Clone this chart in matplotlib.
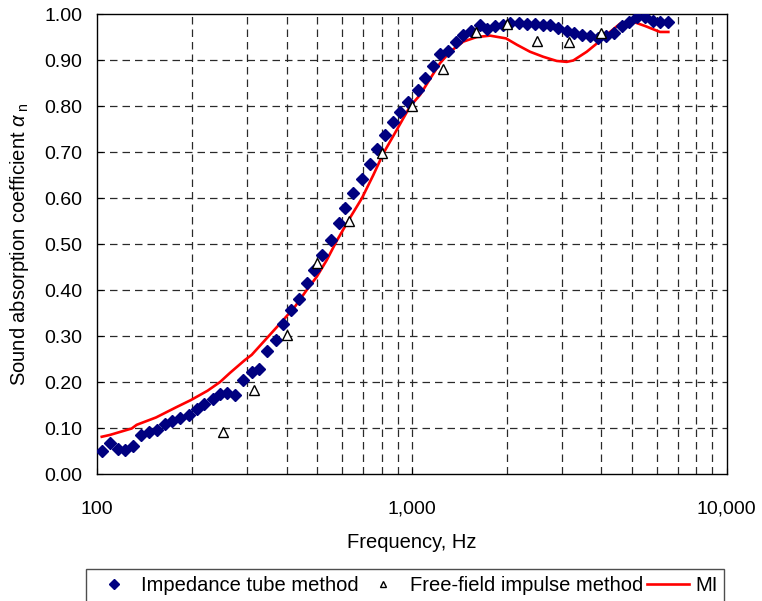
import matplotlib
matplotlib.use("Agg")
import matplotlib.pyplot as plt
from matplotlib.ticker import FixedLocator, FuncFormatter, NullFormatter

plt.rcParams['font.family'] = ['Liberation Sans', 'DejaVu Sans']
plt.rcParams['mathtext.fontset'] = 'custom'
plt.rcParams['mathtext.rm'] = 'Liberation Sans'
plt.rcParams['mathtext.it'] = 'Liberation Sans:italic'

# Impedance tube method
tube_f = [103.3, 109.7, 116.1, 122.9, 130.3, 137.5, 146.0, 154.8, 164.1, 173.1,
          183.8, 195.2, 207.1, 218.8, 232.3, 245.9, 258.8, 274.5, 291.0, 309.4,
          326.5, 346.2, 368.8, 390.0, 411.1, 436.5, 464.8, 488.2, 518.8, 550.8,
          586.1, 612.4, 651.1, 692.2, 735.5, 775.8, 820.8, 868.4, 915.9, 973.2,
          1045, 1100, 1164, 1227, 1304, 1375, 1452, 1540, 1640, 1735,
          1839, 1946, 2049, 2183, 2315, 2459, 2598, 2751, 2911, 3101,
          3272, 3474, 3677, 3908, 4134, 4374, 4638, 4903, 5194, 5512,
          5832, 6151, 6524]
tube_a = [0.050, 0.068, 0.055, 0.053, 0.062, 0.086, 0.092, 0.097, 0.110, 0.116,
          0.122, 0.130, 0.142, 0.154, 0.165, 0.176, 0.178, 0.173, 0.205, 0.223,
          0.230, 0.268, 0.292, 0.327, 0.358, 0.382, 0.416, 0.445, 0.477, 0.509,
          0.546, 0.580, 0.611, 0.642, 0.675, 0.707, 0.738, 0.767, 0.789, 0.810,
          0.836, 0.861, 0.887, 0.914, 0.921, 0.940, 0.956, 0.964, 0.977, 0.968,
          0.975, 0.977, 0.982, 0.982, 0.979, 0.979, 0.978, 0.977, 0.970, 0.964,
          0.960, 0.955, 0.953, 0.949, 0.953, 0.959, 0.976, 0.984, 0.995, 0.995,
          0.985, 0.984, 0.984]

# Free-field impulse method
free_f = [250, 315, 400, 500, 630, 800, 1000, 1250, 1600, 2000, 2500, 3150, 4000]
free_a = [0.092, 0.184, 0.303, 0.460, 0.552, 0.698, 0.802, 0.881, 0.963, 0.979,
          0.943, 0.940, 0.959]

# MI
mi_f = [103.3, 109.7, 128.6, 133.4, 153.7, 177.9, 198.6, 223.9, 245.4, 264.1,
        294.6, 309.4, 345.3, 390.0, 424.8, 462.8, 498.2, 535.8, 576.5, 635.3,
        692.2, 753.5, 810.6, 894.2, 985.4, 1060, 1141, 1227, 1321, 1455,
        1606, 1770, 1990, 2157, 2371, 2614, 2883, 3101, 3254, 3591,
        3899, 4258, 4581, 5049, 5501, 6138, 6524]
mi_a = [0.082, 0.086, 0.100, 0.108, 0.124, 0.146, 0.162, 0.182, 0.201, 0.221,
        0.249, 0.260, 0.296, 0.336, 0.365, 0.401, 0.430, 0.466, 0.508, 0.558,
        0.600, 0.651, 0.698, 0.749, 0.800, 0.825, 0.860, 0.894, 0.919, 0.941,
        0.951, 0.954, 0.948, 0.934, 0.919, 0.908, 0.899, 0.897, 0.900, 0.919,
        0.939, 0.962, 0.980, 0.984, 0.975, 0.962, 0.962]

y_ticks = [0.0, 0.1, 0.2, 0.3, 0.4, 0.5, 0.6, 0.7, 0.8, 0.9, 1.0]
x_ticks = [100, 1000, 10000]
x_ticklabels = ["100", "1,000", "10,000"]
x_minor = [200, 300, 400, 500, 600, 700, 800, 900,
           2000, 3000, 4000, 5000, 6000, 7000, 8000, 9000]

fig = plt.figure(figsize=(7.62, 6.01), dpi=100)
ax = fig.add_axes([0.1277, 0.2105, 0.826, 0.7654])

ax.set_xscale('log')
ax.set_xlim(100, 10000)
ax.set_ylim(0, 1.0)

grid_kw = dict(color='#2a2a2a', linestyle=(0, (6, 4)), linewidth=0.9)
for yv in y_ticks[1:-1]:
    ax.axhline(yv, zorder=0, **grid_kw)
for xv in x_minor + [1000]:
    ax.axvline(xv, zorder=0, **grid_kw)

l1, = ax.plot(tube_f, tube_a, linestyle='none', marker='D', markersize=6,
              color='#000080', label='Impedance tube method', zorder=3)
l2, = ax.plot(free_f, free_a, linestyle='none', marker='^', markersize=7,
              markerfacecolor='white', markeredgecolor='black', markeredgewidth=1.0,
              label='Free-field impulse method', zorder=4)
l3, = ax.plot(mi_f, mi_a, color='#ff0000', linewidth=1.9, label='MI', zorder=2)

ax.xaxis.set_major_locator(FixedLocator(x_ticks))
ax.xaxis.set_major_formatter(FuncFormatter(lambda v, p: x_ticklabels[x_ticks.index(int(round(v)))] if int(round(v)) in x_ticks else ""))
ax.xaxis.set_minor_locator(FixedLocator(x_minor))
ax.xaxis.set_minor_formatter(NullFormatter())
ax.set_yticks(y_ticks)
ax.set_yticklabels([f"{v:.2f}" for v in y_ticks])
ax.tick_params(axis='both', which='major', labelsize=14, direction='in', length=4, color='black')
ax.tick_params(axis='x', which='minor', length=0)
ax.tick_params(axis='x', which='major', pad=19)
ax.tick_params(axis='y', which='major', pad=11)
for s in ax.spines.values():
    s.set_linewidth(1.0)
    s.set_color('black')

ax.set_xlabel('Frequency, Hz', fontsize=14.5, labelpad=11)
ax.set_ylabel(r'Sound absorption coefficient $\alpha_{\ \rm n}$', fontsize=14.5, labelpad=9)

leg = fig.legend(handles=[l1, l2, l3], loc='upper left', bbox_to_anchor=(86 / 762, 1 - 569 / 601),
                 ncol=3, fontsize=14.5, frameon=True, fancybox=False, edgecolor='#222222',
                 handlelength=2.1, columnspacing=0.15, handletextpad=0.3, borderpad=0.35,
                 borderaxespad=0)
leg.get_frame().set_linewidth(1.0)
leg.legend_handles[0].set_markersize(5)
leg.legend_handles[1].set_markersize(5)

fig.savefig('out.png', dpi=100)
